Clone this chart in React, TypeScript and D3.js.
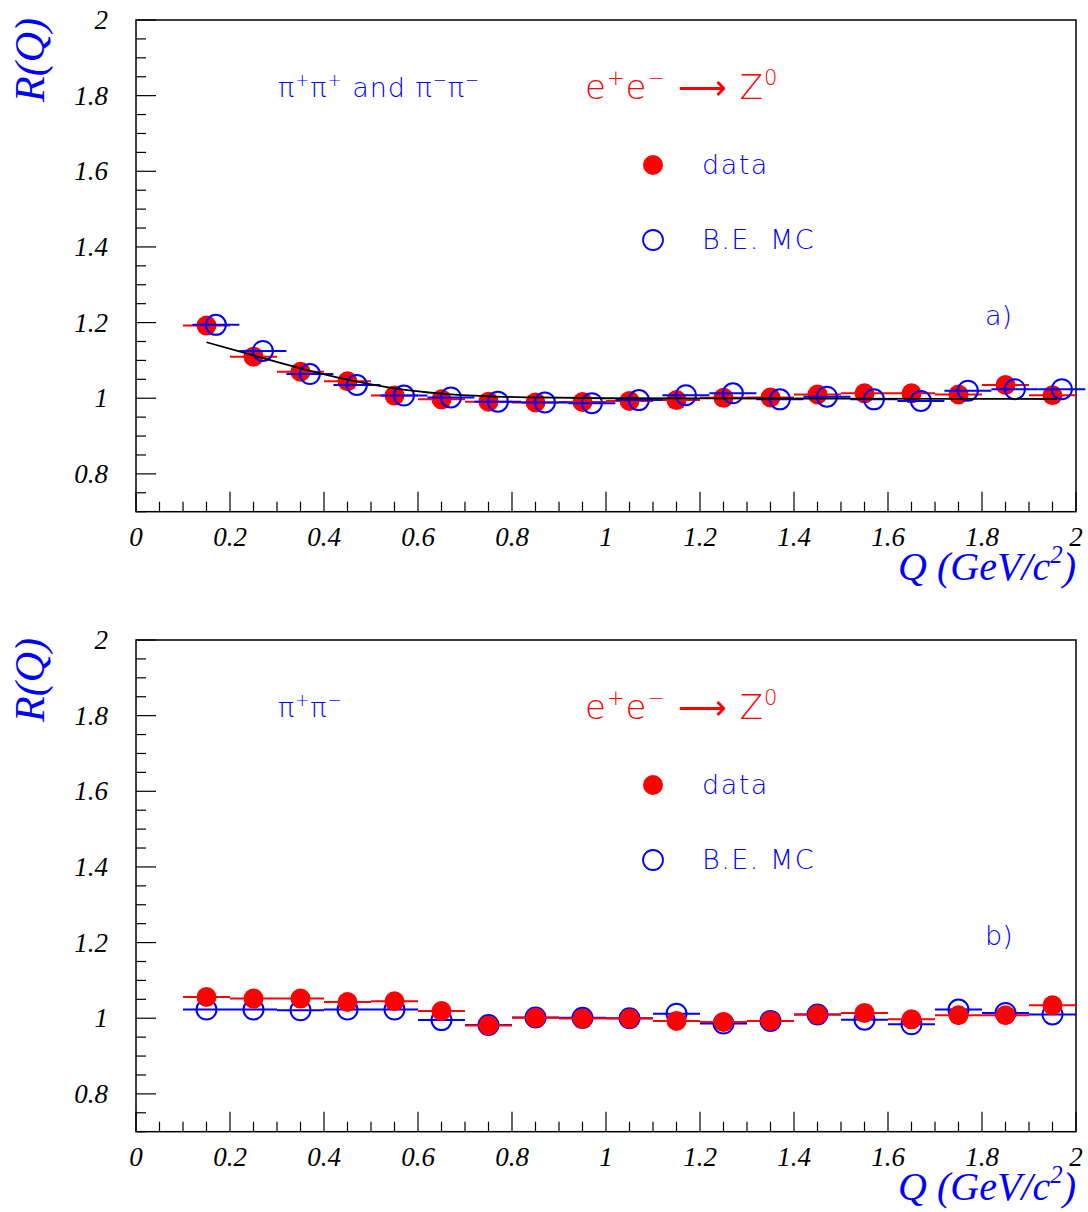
import * as d3 from "d3";
import React from "react";

// bin centres (GeV/c^2), half width of a bin
const qBins = [0.15, 0.25, 0.35, 0.45, 0.55, 0.65, 0.75, 0.85, 0.95, 1.05, 1.15, 1.25, 1.35, 1.45, 1.55, 1.65, 1.75, 1.85, 1.95];
const halfBin = 0.05;

// a) like-sign pairs
const dataLike = [1.192, 1.11, 1.07, 1.045, 1.007, 0.997, 0.991, 0.989, 0.99, 0.993, 0.995, 1.001, 1.002, 1.01, 1.013, 1.013, 1.01, 1.035, 1.008];
const mcLike = [1.194, 1.125, 1.064, 1.035, 1.007, 1.002, 0.991, 0.989, 0.987, 0.995, 1.008, 1.013, 0.997, 1.004, 0.997, 0.993, 1.02, 1.024, 1.024];

// b) unlike-sign pairs
const dataUnlike = [1.056, 1.052, 1.052, 1.043, 1.045, 1.019, 0.981, 1.001, 0.999, 0.999, 0.993, 0.99, 0.993, 1.01, 1.014, 0.997, 1.008, 1.008, 1.034];
const mcUnlike = [1.023, 1.023, 1.021, 1.023, 1.023, 0.995, 0.982, 1.002, 1.001, 1.0, 1.012, 0.986, 0.993, 1.01, 0.996, 0.984, 1.023, 1.014, 1.01];

// fit curve on panel a)
const fitQ = [0.15, 0.25, 0.35, 0.45, 0.55, 0.65, 0.75, 0.85, 1.0, 1.5, 1.96];
const fitR = [1.148, 1.113, 1.079, 1.049, 1.026, 1.012, 1.005, 1.002, 1.0, 0.999, 0.998];

const xTicks = [0, 0.2, 0.4, 0.6, 0.8, 1, 1.2, 1.4, 1.6, 1.8, 2];
const yTicks = [0.8, 1, 1.2, 1.4, 1.6, 1.8, 2];

const RED = "#ff0000";
const BLUE = "#0000ff";
const LEFT = 136;
const RIGHT = 1076;
const serif = "'Liberation Serif', 'Times New Roman', serif";
const sans = "'DejaVu Sans', sans-serif";

// text pieces: [string, isSuperscript]
function Rich({ parts, size }) {
  const shift = size * 0.42;
  let prevSup = false;
  return (
    <>
      {parts.map(([t, sup], i) => {
        let dy = 0;
        if (sup && !prevSup) dy = -shift;
        if (!sup && prevSup) dy = shift;
        prevSup = sup;
        return (
          <tspan key={i} dy={dy} fontSize={sup ? size * 0.62 : size}>
            {t}
          </tspan>
        );
      })}
    </>
  );
}

function Panel(props) {
  const { top, data, mc, mcShift, redFirst, fit, label, tag } = props;
  const bottom = top + 491.7;

  const x = d3.scaleLinear().domain([0, 2]).range([LEFT, RIGHT]);
  const y = d3.scaleLinear().domain([0.7, 2]).range([bottom, top]);

  const xMinor = d3.range(0, 2.0001, 0.05);
  const yMinor = d3.range(0.7, 2.0001, 0.05);

  const line = d3
    .line()
    .x((d) => x(d[0]))
    .y((d) => y(d[1]))
    .curve(d3.curveMonotoneX);

  const redMarks = (
    <g key="red">
      {qBins.map((q, i) => (
        <g key={i}>
          <line x1={x(q - halfBin)} x2={x(q + halfBin)} y1={y(data[i])} y2={y(data[i])} stroke={RED} strokeWidth={2} />
          <circle cx={x(q)} cy={y(data[i])} r={10} fill={RED} />
        </g>
      ))}
    </g>
  );
  const blueMarks = (
    <g key="blue">
      {qBins.map((q, i) => (
        <g key={i}>
          <line
            x1={x(q + mcShift - halfBin)}
            x2={x(q + mcShift + halfBin)}
            y1={y(mc[i])}
            y2={y(mc[i])}
            stroke={BLUE}
            strokeWidth={2}
          />
          <circle cx={x(q + mcShift)} cy={y(mc[i])} r={10} fill="none" stroke={BLUE} strokeWidth={2} />
        </g>
      ))}
    </g>
  );

  const fs = 27;
  return (
    <g>
      {/* ticks */}
      {xMinor.map((t, i) => {
        const major = i % 4 === 0;
        return <line key={"xt" + i} x1={x(t)} x2={x(t)} y1={bottom} y2={bottom - (major ? 20 : 10)} stroke="#000" strokeWidth={1.2} />;
      })}
      {yMinor.map((t, i) => {
        const major = (i - 2) % 4 === 0;
        return <line key={"yt" + i} x1={LEFT} x2={LEFT + (major ? 20 : 10)} y1={y(t)} y2={y(t)} stroke="#000" strokeWidth={1.2} />;
      })}
      <rect x={LEFT} y={top} width={RIGHT - LEFT} height={bottom - top} fill="none" stroke="#000" strokeWidth={1.5} />

      {/* tick labels */}
      {xTicks.map((t) => (
        <text key={"xl" + t} x={x(t)} y={bottom + 34} textAnchor="middle" fontFamily={serif} fontStyle="italic" fontSize={27}>
          {d3.format("~g")(t)}
        </text>
      ))}
      {yTicks.map((t) => (
        <text key={"yl" + t} x={108} y={y(t) + 9} textAnchor="end" fontFamily={serif} fontStyle="italic" fontSize={27}>
          {d3.format("~g")(t)}
        </text>
      ))}

      {/* axis titles */}
      <text transform={`translate(44,${top - 2}) rotate(-90)`} textAnchor="end" fontFamily={serif} fontStyle="italic" fontSize={42} fill={BLUE}>
        R(Q)
      </text>
      <text x={RIGHT} y={bottom + 68} textAnchor="end" fontFamily={serif} fontStyle="italic" fontSize={40} fill={BLUE}>
        <Rich size={40} parts={[["Q (GeV/c", false], ["2", true], [")", false]]} />
      </text>

      {/* marks */}
      {redFirst ? [redMarks, blueMarks] : [blueMarks, redMarks]}
      {fit && <path d={line(fitQ.map((q, i) => [q, fitR[i]]))} fill="none" stroke="#000" strokeWidth={1.8} />}

      {/* labels */}
      <text x={278} y={top + 77} fontFamily={sans} fontWeight={200} fontSize={fs} fill={BLUE} letterSpacing={1}>
        <Rich size={fs} parts={label} />
      </text>
      <text x={585} y={top + 79} fontFamily={sans} fontWeight={200} fontSize={34} fill={RED} letterSpacing={1}>
        <Rich
          size={34}
          parts={[
            ["e", false],
            ["+", true],
            ["e", false],
            ["−", true],
            [" ⟶ Z", false],
            ["0", true],
          ]}
        />
      </text>
      <circle cx={653} cy={top + 145} r={10} fill={RED} />
      <text x={702} y={top + 154} fontFamily={sans} fontWeight={200} fontSize={fs} fill={BLUE} letterSpacing={1.5}>
        data
      </text>
      <circle cx={653} cy={top + 220} r={10} fill="none" stroke={BLUE} strokeWidth={1.8} />
      <text x={702} y={top + 229} fontFamily={sans} fontWeight={200} fontSize={fs} fill={BLUE} letterSpacing={1.5}>
        B.E. MC
      </text>
      <text x={985} y={top + 305} fontFamily={sans} fontWeight={200} fontSize={fs} fill={BLUE}>
        {tag}
      </text>
    </g>
  );
}

export default function App() {
  return (
    <svg width={1088} height={1212} style={{ position: "absolute", left: 0, top: 0, background: "#fff" }}>
      <rect width={1088} height={1212} fill="#fff" />
      <Panel
        top={20}
        data={dataLike}
        mc={mcLike}
        mcShift={0.02}
        redFirst={true}
        fit={true}
        tag="a)"
        label={[
          ["π", false],
          ["+", true],
          ["π", false],
          ["+", true],
          [" and π", false],
          ["−", true],
          ["π", false],
          ["−", true],
        ]}
      />
      <Panel
        top={640}
        data={dataUnlike}
        mc={mcUnlike}
        mcShift={0}
        redFirst={false}
        fit={false}
        tag="b)"
        label={[
          ["π", false],
          ["+", true],
          ["π", false],
          ["−", true],
        ]}
      />
    </svg>
  );
}
